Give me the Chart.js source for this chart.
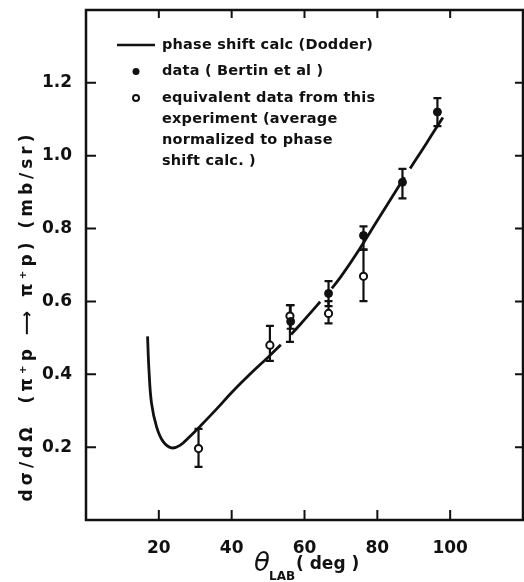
<!DOCTYPE html>
<html>
<head>
<meta charset="utf-8">
<script src="https://cdn.jsdelivr.net/npm/chart.js@4.4.1/dist/chart.umd.min.js"></script>
<style>
  html, body { margin: 0; padding: 0; background: #fff; }
  #c { display: block; }
</style>
</head>
<body>
<canvas id="c" width="524" height="582"></canvas>
<script>
// phase shift calculation (Dodder)
const curveDeg = [16.9, 17.3, 18.0, 19.4, 21.2, 23.5, 25.8, 28.6, 31.3, 35.9, 40, 45, 50, 53.5, 56.3, 60, 64.3, 67.5, 70, 75, 80, 85, 87.5, 89, 92, 95, 98]
const curveVal = [0.504, 0.41, 0.32, 0.255, 0.215, 0.198, 0.205, 0.23, 0.257, 0.305, 0.35, 0.40, 0.447, 0.481, 0.509, 0.55, 0.599, 0.636, 0.668, 0.742, 0.822, 0.902, 0.941, 0.965, 1.011, 1.058, 1.105]
// the pen was lifted across these stretches of the curve
const gapFrom = [53.5, 64.3, 87.5]
const gapTo = [56.3, 67.5, 89]

// data (Bertin et al)
const bertinDeg = [56.2, 66.6, 76.2, 86.9, 96.5]
const bertinVal = [0.545, 0.622, 0.781, 0.927, 1.12]
const bertinLo = [0.525, 0.587, 0.742, 0.883, 1.081]
const bertinHi = [0.59, 0.656, 0.806, 0.964, 1.158]

// equivalent data from this experiment
const equivDeg = [30.9, 50.5, 56.0, 66.6, 76.2]
const equivVal = [0.196, 0.48, 0.56, 0.567, 0.669]
const equivLo = [0.146, 0.437, 0.489, 0.54, 0.601]
const equivHi = [0.25, 0.533, 0.59, 0.601, 0.742]

const xTicks = [20, 40, 60, 80, 100]
const yTicks = [0.2, 0.4, 0.6, 0.8, 1.0, 1.2]

const legendLines = [
  ['line', 'phase shift calc (Dodder)'],
  ['dot', 'data ( Bertin et al )'],
  ['circle', 'equivalent data from this', 'experiment (average', 'normalized to phase', 'shift calc. )']
]

const ink = '#111'
const font = '"DejaVu Sans", sans-serif'

const toPts = (xs, ys) => xs.map((x, i) => ({x: x, y: ys[i]}))
const inGap = x => gapFrom.some((g, i) => x >= g - 1e-6 && x < gapTo[i] - 1e-6)

// frame, inward ticks, error bars, legend and axis titles
const decor = {
  id: 'decor',
  beforeDatasetsDraw(chart) {
    const c = chart.ctx
    const xs = chart.scales.x, ys = chart.scales.y
    c.save()
    c.strokeStyle = ink
    c.lineWidth = 2.2
    const bar = (dx, lo, hi) => {
      const px = xs.getPixelForValue(dx)
      const a = ys.getPixelForValue(lo), b = ys.getPixelForValue(hi)
      c.beginPath()
      c.moveTo(px, a); c.lineTo(px, b)
      c.moveTo(px - 4, a); c.lineTo(px + 4, a)
      c.moveTo(px - 4, b); c.lineTo(px + 4, b)
      c.stroke()
    }
    bertinDeg.forEach((d, i) => bar(d, bertinLo[i], bertinHi[i]))
    equivDeg.forEach((d, i) => bar(d, equivLo[i], equivHi[i]))
    c.restore()
  },
  afterDraw(chart) {
    const c = chart.ctx
    const a = chart.chartArea
    const xs = chart.scales.x, ys = chart.scales.y
    c.save()
    c.strokeStyle = ink
    c.fillStyle = ink
    c.lineWidth = 2.5
    c.strokeRect(a.left, a.top, a.right - a.left, a.bottom - a.top)
    c.lineWidth = 2
    c.beginPath()
    xTicks.forEach(v => {
      const px = xs.getPixelForValue(v)
      c.moveTo(px, a.bottom); c.lineTo(px, a.bottom - 10)
      c.moveTo(px, a.top); c.lineTo(px, a.top + 8)
    })
    yTicks.forEach(v => {
      const py = ys.getPixelForValue(v)
      c.moveTo(a.left, py); c.lineTo(a.left + 10, py)
      c.moveTo(a.right, py); c.lineTo(a.right - 8, py)
    })
    c.stroke()

    // legend
    c.font = 'bold 14.5px ' + font
    c.letterSpacing = '0.2px'
    c.textBaseline = 'middle'
    c.textAlign = 'left'
    let y = 45
    legendLines.forEach(entry => {
      const kind = entry[0]
      if (kind === 'line') {
        c.lineWidth = 2.5
        c.beginPath(); c.moveTo(117, y); c.lineTo(155, y); c.stroke()
      } else if (kind === 'dot') {
        c.beginPath(); c.arc(136, y, 3.5, 0, Math.PI * 2); c.fill()
      } else {
        c.lineWidth = 2
        c.beginPath(); c.arc(136, y, 3, 0, Math.PI * 2); c.stroke()
      }
      entry.slice(1).forEach((t, k) => {
        c.fillText(t, 162, y + k * 21)
      })
      y += 26.5 + (entry.length - 2) * 21
    })

    // x title
    c.letterSpacing = '0px'
    c.textBaseline = 'alphabetic'
    c.font = 'italic 26px ' + font
    c.fillText('θ', 254, 571)
    c.font = 'bold 12px ' + font
    c.fillText('LAB', 269, 580)
    c.font = 'bold 17px ' + font
    c.fillText('( deg )', 296, 569)

    // y title
    c.translate(28, 316)
    c.rotate(-Math.PI / 2)
    c.textAlign = 'center'
    c.textBaseline = 'middle'
    c.font = 'bold 17px ' + font
    c.letterSpacing = '4px'
    c.fillText('dσ/dΩ  (π⁺p ⟶ π⁺p) (mb/sr)', 0, 0)
    c.restore()
  }
}

new Chart(document.getElementById('c'), {
  type: 'scatter',
  data: {
    datasets: [
      {
        type: 'line',
        data: toPts(curveDeg, curveVal),
        borderColor: ink,
        borderWidth: 2.8,
        pointRadius: 0,
        tension: 0.4,
        fill: false,
        segment: {
          borderColor: ctx => inGap(ctx.p0.parsed.x) ? 'rgba(0,0,0,0)' : ink
        }
      },
      {
        data: toPts(bertinDeg, bertinVal),
        pointRadius: 4,
        backgroundColor: ink,
        borderColor: ink,
        borderWidth: 1
      },
      {
        data: toPts(equivDeg, equivVal),
        pointRadius: 3.6,
        backgroundColor: '#fff',
        borderColor: ink,
        borderWidth: 2
      }
    ]
  },
  options: {
    responsive: false,
    animation: false,
    devicePixelRatio: 1,
    layout: {autoPadding: false, padding: {top: 10, right: 1, left: 0, bottom: 0}},
    plugins: {legend: {display: false}, tooltip: {enabled: false}},
    scales: {
      x: {
        type: 'linear',
        min: 0, max: 120,
        afterFit: s => { s.height = 62; s.paddingLeft = 0; s.paddingRight = 0 },
        grid: {display: false},
        border: {display: false},
        ticks: {
          stepSize: 20,
          padding: 10,
          color: ink,
          font: {family: font, size: 17, weight: 'bold'},
          callback: v => xTicks.includes(v) ? String(v) : ''
        }
      },
      y: {
        type: 'linear',
        min: 0, max: 1.4,
        afterFit: s => { s.width = 86; s.paddingTop = 0; s.paddingBottom = 0 },
        grid: {display: false},
        border: {display: false},
        ticks: {
          stepSize: 0.2,
          padding: 6,
          color: ink,
          font: {family: font, size: 17, weight: 'bold'},
          callback: v => yTicks.some(t => Math.abs(t - v) < 1e-6) ? v.toFixed(1) : ''
        }
      }
    }
  },
  plugins: [decor]
})
</script>
</body>
</html>
